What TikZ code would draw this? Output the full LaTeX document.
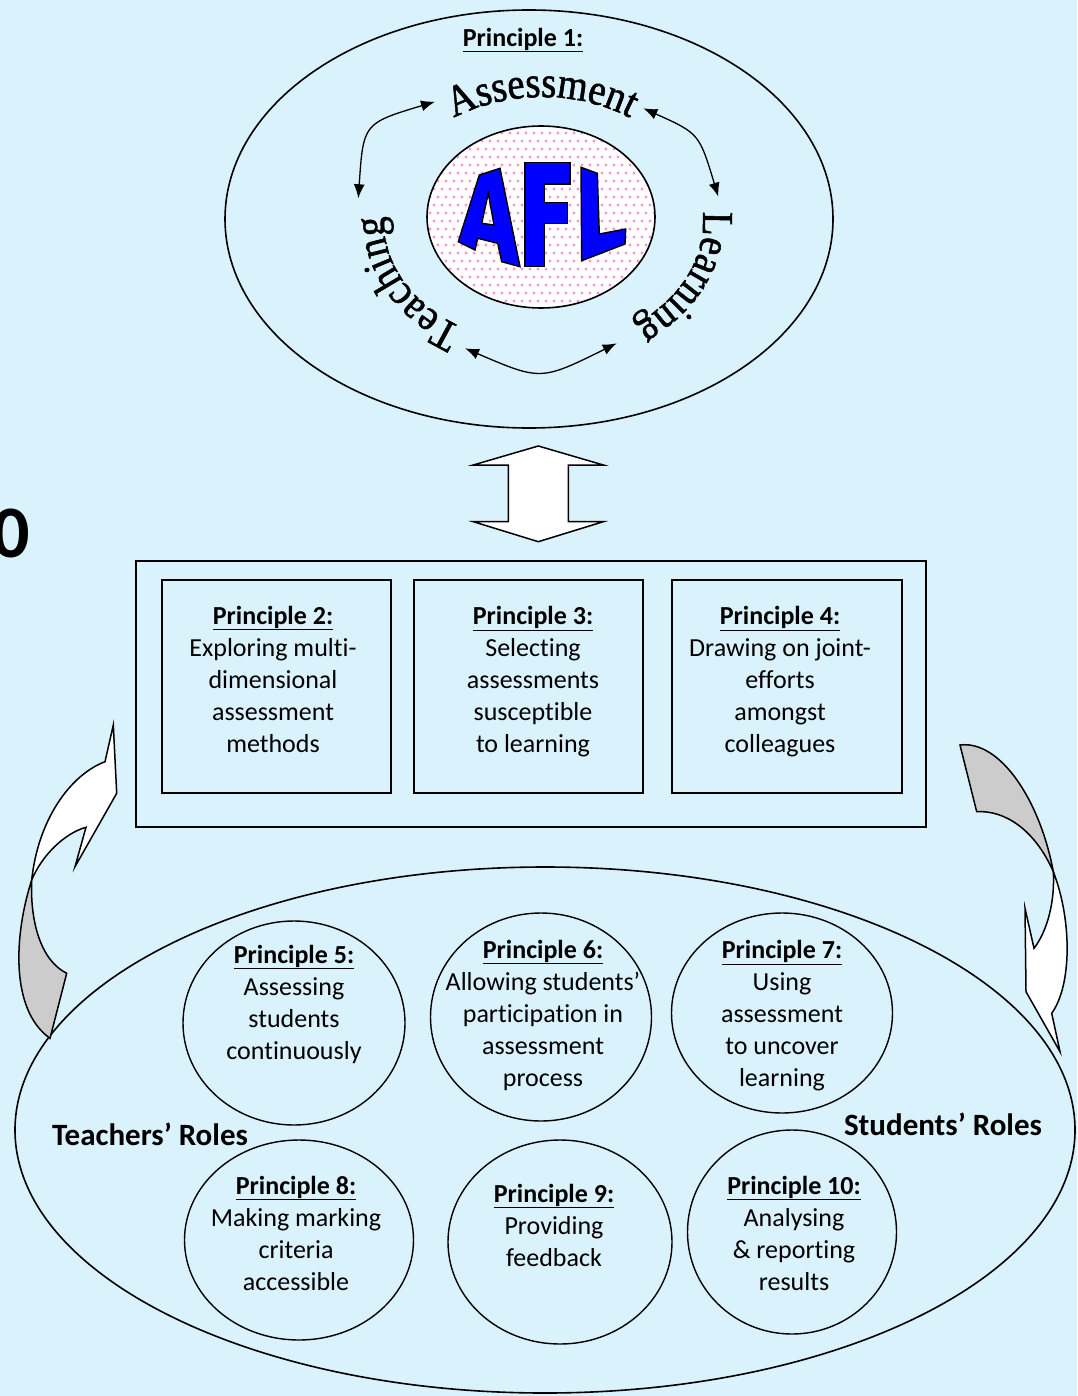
\documentclass[tikz,border=0pt]{standalone}
\usepackage{fontspec}
\setmainfont{Carlito}[Ligatures=CommonOff]
\newfontfamily\wafont{Liberation Serif}[FakeBold=1.2,FakeStretch=0.88]
\usetikzlibrary{arrows.meta,decorations.text,shapes.geometric}
\definecolor{bgc}{RGB}{218,242,252}
\definecolor{dotc}{RGB}{250,150,200}
\definecolor{aflblue}{RGB}{0,0,255}
\definecolor{ribgray}{RGB}{204,204,204}
\begin{document}
\begin{tikzpicture}[x=1pt,y=-1pt,line join=miter,
  txt/.style={font=\fontsize{26}{32}\selectfont,align=center,inner sep=0pt},
  roles/.style={font=\bfseries\fontsize{31}{34}\selectfont,inner sep=0pt},
  bx/.style={draw=black,line width=1.6pt,inner sep=0pt},
  ell/.style={ellipse,draw=black,line width=1.6pt,inner sep=0pt},
  pell/.style={ellipse,draw=black,line width=1.4pt,inner sep=0pt},
  dbl/.style={line width=1.3pt,{Latex[length=14pt,width=11pt]}-{Latex[length=14pt,width=11pt]}},
  letter/.style={fill=aflblue,draw=black,line width=1.4pt,line join=miter},
  ribbon/.style={draw=black,line width=1.5pt,line join=miter},
  wordart/.style={decorate,decoration={text along path,text align=center,
     text format delimiters={|}{|}}}]
\useasboundingbox (0,0) rectangle (1077,1396);
\fill[bgc] (0,0) rectangle (1077,1396);

% ---------- top ellipse ----------
\node[ell,minimum width=608pt,minimum height=418pt] (top) at (529,219) {};
\node[txt] (p1) at (523,40) {\underline{\textbf{Principle 1:}}};

% AFL ellipse with dots
\fill[white] (541,217) ellipse [x radius=114,y radius=91];
\begin{scope}
  \clip (541,217) ellipse [x radius=114,y radius=91];
  \foreach \j in {0,...,24}{
    \foreach \i in {0,...,30}{
      \pgfmathsetmacro{\xx}{426+\i*8+mod(\j,2)*4}
      \pgfmathsetmacro{\yy}{125+\j*8}
      \fill[dotc] (\xx,\yy) circle (1.6);
    }
  }
\end{scope}
\node[ell,minimum width=228pt,minimum height=182pt] (afl) at (541,217) {};

% letters A F L
\draw[letter,even odd rule]
  (458.3,241.7) -- (479.3,175) -- (500,168.3) -- (520,266.7) -- (501.7,261.7)
  -- (497.7,243.3) -- (477.7,238.3) -- (475,250) -- cycle
  (488.3,193.3) -- (494,225) -- (481.7,223.3) -- cycle;
\draw[letter]
  (525,162.7) -- (570,162.7) -- (570,184) -- (544.3,184) -- (544.3,202.7)
  -- (567.3,202.7) -- (567.3,223.3) -- (544.3,223.3) -- (544.3,266.7)
  -- (525,266.7) -- cycle;
\draw[letter]
  (581,167.3) -- (597.3,173.3) -- (599.3,234) -- (625.7,229) -- (625,244)
  -- (581.7,260.7) -- cycle;

% curved words
\coordinate (wc) at (542,222);
\path[wordart,decoration={text={|\wafont\fontsize{44}{44}\selectfont|Assessment}}]
  (wc) ++(-140:159 and 125) arc[start angle=-140,end angle=-40,x radius=159,y radius=125];
\path[wordart,decoration={text={|\wafont\fontsize{44}{44}\selectfont|Learning}}]
  (wc) ++(-18:161 and 125) arc[start angle=-18,end angle=66,x radius=161,y radius=125];
\path[wordart,decoration={text={|\wafont\fontsize{44}{44}\selectfont|Teaching}}]
  (wc) ++(108:158 and 122) arc[start angle=108,end angle=198,x radius=158,y radius=122];

% arrows between words
\coordinate (ta1) at (435,101.7);
\coordinate (ta2) at (358.3,198.3);
\coordinate (al1) at (643.3,108.3);
\coordinate (al2) at (718.3,196.7);
\coordinate (lt1) at (465,348.3);
\coordinate (lt2) at (616.7,343.3);
\draw[dbl] (ta1) .. controls (363.3,123.3) .. (ta2);
\draw[dbl] (al1) .. controls (699.2,133.5) .. (al2);
\draw[dbl] (lt1) .. controls (540.8,380.8) .. (lt2);

% ---------- double vertical arrow ----------
\draw[ribbon,fill=white] (538.3,446) -- (603.3,465) -- (568.3,465) -- (568.3,521.7)
  -- (603.3,521.7) -- (538.3,541.7) -- (473.3,521.7) -- (508.3,521.7)
  -- (508.3,465) -- (473.3,465) -- cycle;

% the partial "0"
\node[font=\bfseries\fontsize{74}{74}\selectfont,anchor=base west,inner sep=0pt] (zero) at (-8,557) {0};

% ---------- middle rectangle ----------
\node[bx,minimum width=790pt,minimum height=266pt] (mid) at (531,694) {};
\node[bx,minimum width=229pt,minimum height=213pt] (b2) at (276.5,686.5) {};
\node[bx,minimum width=229pt,minimum height=213pt] (b3) at (528.5,686.5) {};
\node[bx,minimum width=230pt,minimum height=213pt] (b4) at (787,686.5) {};
\node[txt] (t2) at (273,679) {\underline{\textbf{Principle 2:}}\\Exploring multi-\\dimensional\\assessment\\methods};
\node[txt] (t3) at (533,682) {\underline{\textbf{Principle 3:}}\\Selecting\\assessments\\susceptible\\to learning};
\node[txt] (t4) at (780,682) {\underline{\textbf{Principle 4:}}\\Drawing on joint-\\efforts\\amongst\\colleagues};

% ---------- bottom ellipse ----------
\node[pell,line width=1.6pt,minimum width=1060pt,minimum height=526pt] (bot) at (545,1130) {};
\node[pell,minimum width=222pt,minimum height=204pt] (e5) at (294,1023) {};
\node[pell,minimum width=221pt,minimum height=208pt] (e6) at (541,1017) {};
\node[pell,minimum width=221pt,minimum height=200pt] (e7) at (782,1013) {};
\node[pell,minimum width=229pt,minimum height=200pt] (e8) at (299,1240) {};
\node[pell,minimum width=224pt,minimum height=204pt] (e9) at (560,1242) {};
\node[pell,minimum width=209pt,minimum height=204pt] (e10) at (792,1232) {};
\node[txt] (t5) at (294,1004) {\underline{\textbf{Principle 5:}}\\Assessing\\students\\continuously};
\node[txt] (t6) at (543,1015) {\underline{\textbf{Principle 6:}}\\Allowing students’\\participation in\\assessment\\process};
\node[txt] (t7) at (782,1016) {\underline{\textbf{Principle 7:}}\\Using\\assessment\\to uncover\\learning};
\node[txt] (t8) at (296,1233) {\underline{\textbf{Principle 8:}}\\Making marking\\criteria\\accessible};
\node[txt] (t9) at (554,1225) {\underline{\textbf{Principle 9:}}\\Providing\\feedback};
\node[txt] (t10) at (794,1233) {\underline{\textbf{Principle 10:}}\\Analysing\\\& reporting\\results};
\node[roles] (tr) at (150,1134) {Teachers’ Roles};
\node[roles] (sr) at (943,1124) {Students’ Roles};

% ---------- left ribbon arrow ----------
\draw[ribbon,fill=ribgray] (31.7,880) .. controls (14,935) and (10,1010) .. (50,1038.3)
  -- (66.7,973.3) .. controls (40,960) and (30,920) .. (31.7,880) -- cycle;
\draw[ribbon,fill=white] (31.7,880) .. controls (38,820) and (70,775) .. (105,761.7)
  -- (113.3,725) -- (116.7,793.3) -- (75,866.7) -- (86,827.3)
  .. controls (65,833) and (42,855) .. (31.7,880) -- cycle;

% ---------- right ribbon arrow ----------
\draw[ribbon,fill=ribgray] (960,745) .. controls (1000,740) and (1040,800) .. (1053.3,871.7)
  .. controls (1035,830) and (1005,810) .. (976.7,811.7) -- cycle;
\draw[ribbon,fill=white] (1053.3,871.7) .. controls (1072,920) and (1072,985) .. (1051.7,1013.3)
  -- (1060,1051.7) -- (1026,991.7) -- (1025,908.3) -- (1034,948.3)
  .. controls (1048,930) and (1055,900) .. (1053.3,871.7) -- cycle;
\end{tikzpicture}
\end{document}
